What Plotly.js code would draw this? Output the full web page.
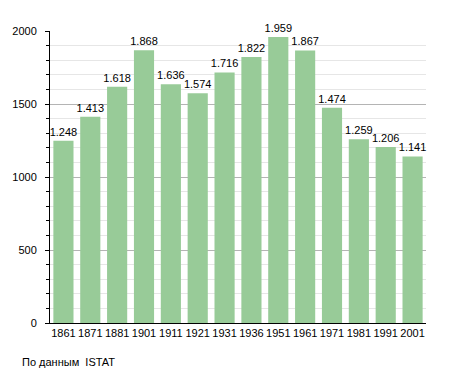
<!DOCTYPE html>
<html><head><meta charset="utf-8">
<script src="https://cdn.plot.ly/plotly-3.0.1.min.js"></script>
<style>body{margin:0;background:#fff}#c{width:455px;height:373px}</style>
</head><body><div id="c"></div>
<script>
const years = ["1861","1871","1881","1901","1911","1921","1931","1936","1951","1961","1971","1981","1991","2001"];
const population = [1248,1413,1618,1868,1636,1574,1716,1822,1959,1867,1474,1259,1206,1141];
const labels = ["1.248","1.413","1.618","1.868","1.636","1.574","1.716","1.822","1.959","1.867","1.474","1.259","1.206","1.141"];
const sourceNote = "По данным  ISTAT";

Plotly.newPlot('c', [{
  type: 'bar', x: years, y: population, text: labels,
  textposition: 'outside', cliponaxis: false, constraintext: 'none',
  textfont: {family: 'Liberation Sans, Arial, sans-serif', size: 11, color: '#000'},
  marker: {color: '#98cb98'}, hoverinfo: 'none'
}], {
  width: 455, height: 373,
  margin: {l: 50, r: 29, t: 31, b: 50},
  bargap: 0.25,
  paper_bgcolor: '#fff', plot_bgcolor: '#fff',
  font: {family: 'Liberation Sans, Arial, sans-serif', size: 11, color: '#000'},
  xaxis: {type: 'category', showline: true, linecolor: '#000', linewidth: 1, ticks: '', tickfont: {size: 11}, fixedrange: true},
  yaxis: {range: [0, 2000], dtick: 500, tick0: 0, showline: true, linecolor: '#000', linewidth: 1,
    ticks: 'outside', ticklen: 4, tickcolor: '#000', gridcolor: '#b4b4b4', zeroline: false,
    ticklabelstandoff: 6,
    minor: {dtick: 100, showgrid: true, gridcolor: '#e6e6e6', ticks: 'outside', ticklen: 3, tickcolor: '#000'},
    tickfont: {size: 11}, fixedrange: true},
  showlegend: false,
  annotations: [{text: sourceNote, xref: 'paper', yref: 'paper', x: -0.08, y: -0.134, xanchor: 'left', yanchor: 'middle', showarrow: false, font: {size: 11}}]
}, {displayModeBar: false, staticPlot: true});
</script></body></html>
